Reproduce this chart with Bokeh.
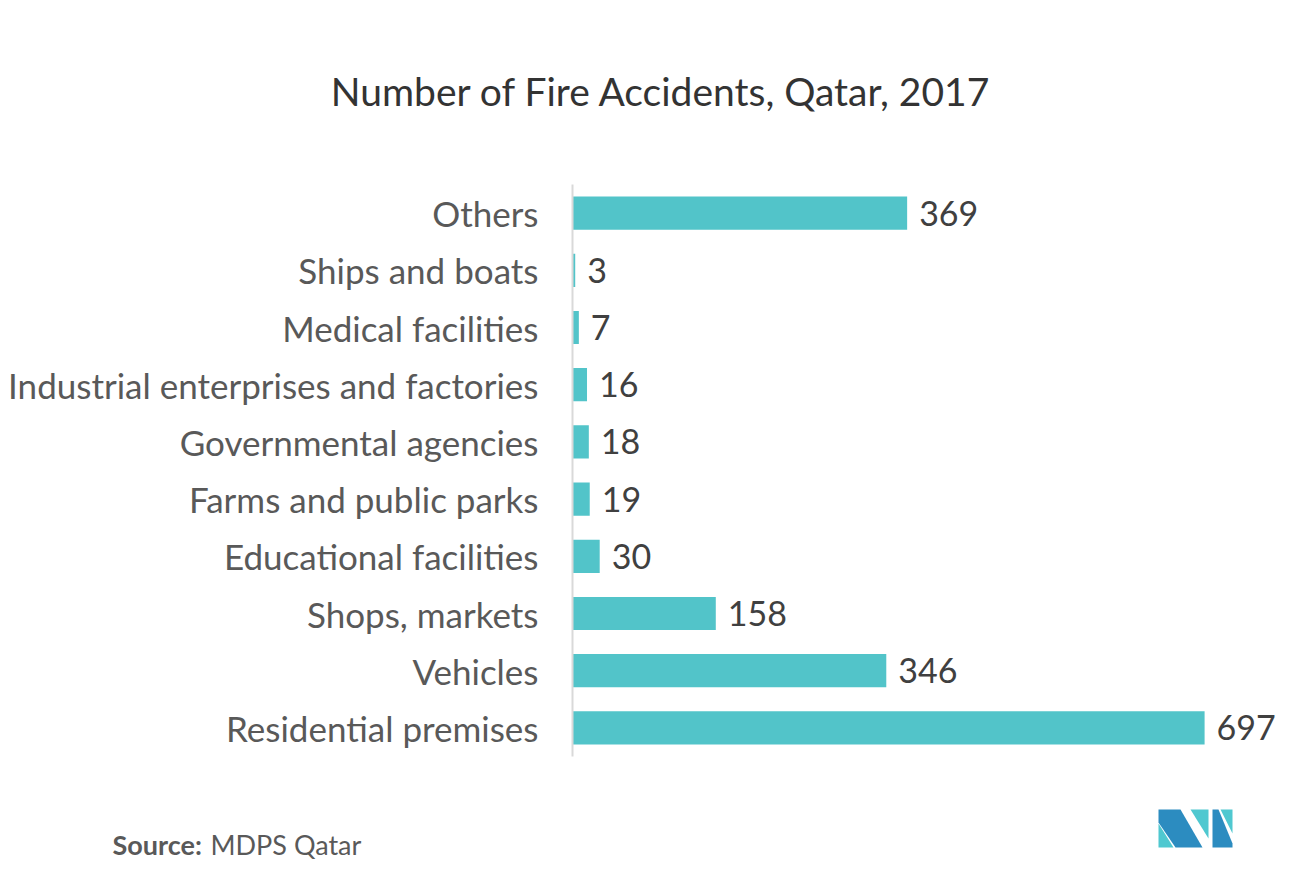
from bokeh.plotting import figure
from bokeh.models import ColumnDataSource, Range1d, FactorRange, LabelSet
from bokeh.core.properties import value
from bokeh.embed import file_html
from bokeh.resources import INLINE

categories = ["Others", "Ships and boats", "Medical facilities",
              "Industrial enterprises and factories", "Governmental agencies",
              "Farms and public parks", "Educational facilities", "Shops, markets",
              "Vehicles", "Residential premises"]
values = [369, 3, 7, 16, 18, 19, 30, 158, 346, 697]
value_labels = [str(v) for v in values]

title_text = "Number of Fire Accidents, Qatar, 2017"
source_bold = "Source:"
source_text = "MDPS Qatar"

FONT = "Lato"
BAR = "#52C4C9"
W = 1283
TOP_H = 184
MAIN_H = 600
BOT_H = 80


def blank(height, y0):
    f = figure(width=W, height=height, output_backend="svg", toolbar_location=None,
               x_range=Range1d(0, W), y_range=Range1d(y0 + height, y0),
               x_axis_location=None, y_axis_location=None,
               min_border=0)
    f.outline_line_color = None
    f.grid.visible = False
    return f


# ---- title strip
top = blank(TOP_H, 0)
top.text(x=[661], y=[90], text=[title_text], text_align="center",
         text_baseline="middle", text_font=value(FONT), text_font_size="39px",
         text_color="#333333")

# ---- main chart
src = ColumnDataSource(dict(cat=categories, val=values, lab=value_labels))
p = figure(width=W, height=MAIN_H, output_backend="svg", toolbar_location=None,
           x_range=Range1d(0, 784),
           y_range=FactorRange(factors=list(reversed(categories))),
           x_axis_location=None,
           min_border_left=572, min_border_right=0, min_border_top=0,
           min_border_bottom=MAIN_H - 572)
p.outline_line_color = None
p.grid.visible = False

p.hbar(y="cat", right="val", left=0, height=0.58, source=src, color=BAR, line_color=None)

labels = LabelSet(x="val", y="cat", text="lab", source=src, x_offset=12,
                  text_baseline="middle", text_align="left", text_font=value(FONT),
                  text_font_size="34px", text_color="#404040")
p.add_layout(labels)

ax = p.yaxis[0]
ax.axis_line_color = "#d9d9d9"
ax.axis_line_width = 2
ax.major_tick_line_color = None
ax.minor_tick_line_color = None
ax.major_tick_out = 0
ax.major_tick_in = 0
ax.major_label_standoff = 34
ax.major_label_text_font = FONT
ax.major_label_text_font_size = "35px"
ax.major_label_text_color = "#595959"

# ---- source / logo strip
bot = blank(BOT_H, TOP_H + MAIN_H)
bot.text(x=[112], y=[844], text=[source_bold], text_align="left",
         text_baseline="middle", text_font=value(FONT), text_font_size="27px",
         text_font_style="bold", text_color="#595959")
bot.text(x=[210], y=[844], text=[source_text], text_align="left",
         text_baseline="middle", text_font=value(FONT), text_font_size="27px",
         text_color="#595959")

logo_xs = [[1158, 1158, 1173],
           [1158, 1180, 1202, 1175, 1158],
           [1190, 1208, 1208],
           [1212, 1212, 1232, 1232, 1218],
           [1220, 1232, 1232]]
logo_ys = [[823, 847, 847],
           [809, 809, 847, 847, 822],
           [809, 809, 838],
           [809, 847, 847, 843, 809],
           [809, 809, 833]]
logo_colors = ["#4FC8D0", "#2C8CC0", "#4FC8D0", "#2C8CC0", "#4FC8D0"]
bot.patches(xs=logo_xs, ys=logo_ys, fill_color=logo_colors, line_color=None)

open("out.html", "w").write(file_html([top, p, bot], INLINE))
